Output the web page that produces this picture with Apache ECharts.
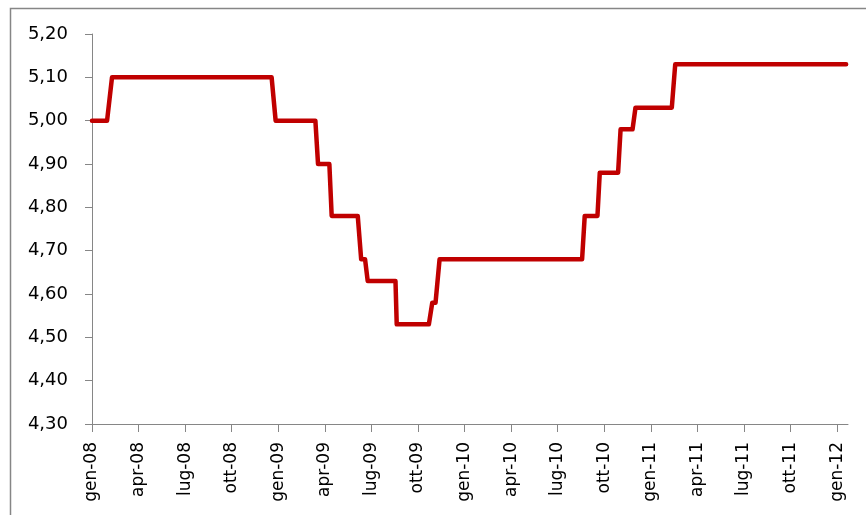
<!DOCTYPE html>
<html><head><meta charset="utf-8">
<script src="https://cdn.jsdelivr.net/npm/echarts@6/dist/echarts.min.js"></script>
<style>html,body{margin:0;padding:0;background:#fff}#c{width:866px;height:515px}</style>
</head><body><div id="c"></div>
<script>
// x = months since gen-08 (fractional), y = price
const months = [0, 0.97, 1.29, 11.57, 11.83, 14.39, 14.56, 15.29, 15.44, 17.12, 17.34, 17.59, 17.76, 19.55, 19.63, 21.70, 21.92, 22.13, 22.39, 31.57, 31.74, 32.56, 32.71, 33.89, 34.05, 34.82, 35.01, 37.35, 37.57, 48.58];
const prices = [5.00, 5.00, 5.10, 5.10, 5.00, 5.00, 4.90, 4.90, 4.78, 4.78, 4.68, 4.68, 4.63, 4.63, 4.53, 4.53, 4.58, 4.58, 4.68, 4.68, 4.78, 4.78, 4.88, 4.88, 4.98, 4.98, 5.03, 5.03, 5.13, 5.13];
const tickLabels = ['gen-08','apr-08','lug-08','ott-08','gen-09','apr-09','lug-09','ott-09','gen-10','apr-10','lug-10','ott-10','gen-11','apr-11','lug-11','ott-11','gen-12'];

const chart = echarts.init(document.getElementById('c'));
const font = '"DejaVu Sans", "Liberation Sans", sans-serif';
chart.setOption({
  animation: false,
  textStyle: {fontFamily: font},
  graphic: [{
    type: 'polyline', silent: true,
    shape: {points: [[10.5, 515], [10.5, 8.5], [866, 8.5]]},
    style: {stroke: '#868686', lineWidth: 1.5, fill: null}
  }],
  grid: {left: 92, right: 18, top: 34, bottom: 91, containLabel: false},
  xAxis: {
    type: 'value', min: 0, max: 48.7, interval: 3,
    axisLine: {show: true, lineStyle: {color: '#868686', width: 1}},
    axisTick: {show: true, length: 8, lineStyle: {color: '#868686'}},
    splitLine: {show: false},
    axisLabel: {
      rotate: 90, fontSize: 17, color: '#000', fontFamily: font, margin: 18,
      showMaxLabel: false,
      formatter: v => { const i = Math.round(v / 3); return tickLabels[i] !== undefined ? tickLabels[i] : ''; }
    }
  },
  yAxis: {
    type: 'value', min: 4.3, max: 5.2, interval: 0.1,
    axisLine: {show: true, lineStyle: {color: '#868686', width: 1}},
    axisTick: {show: true, length: 7, lineStyle: {color: '#868686'}},
    splitLine: {show: false},
    axisLabel: {
      fontSize: 18, color: '#000', fontFamily: font, margin: 24,
      formatter: v => v.toFixed(2).replace('.', ',')
    }
  },
  series: [{
    type: 'line',
    data: months.map((m, i) => [m, prices[i]]),
    symbol: 'none',
    lineStyle: {color: '#C00000', width: 4.5, cap: 'round', join: 'round'}
  }]
});
</script></body></html>
